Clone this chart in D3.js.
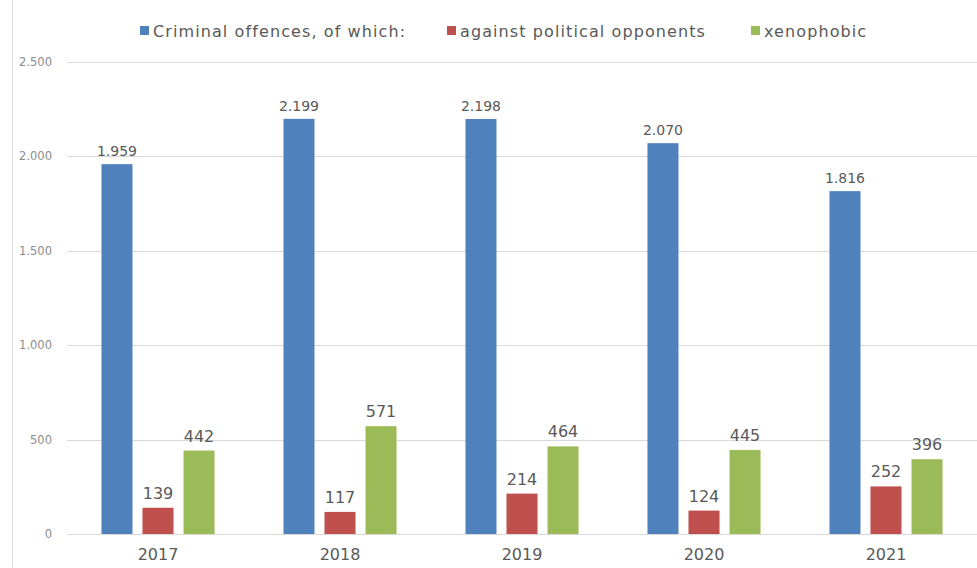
<!DOCTYPE html>
<html>
<head>
<meta charset="utf-8">
<script src="https://cdn.jsdelivr.net/npm/d3@7"></script>
<style>
  body { margin: 0; background: #fff; }
  text { font-family: "DejaVu Sans", sans-serif; }
</style>
</head>
<body>
<div id="canvas"></div>
<script>
"use strict"

// DATA

let years = ["2017", "2018", "2019", "2020", "2021"];
let seriesNames = ["Criminal offences, of which:", "against political opponents", "xenophobic"];
let criminal = [1959, 2199, 2198, 2070, 1816];
let political = [139, 117, 214, 124, 252];
let xenophobic = [442, 571, 464, 445, 396];
let yTicks = [0, 500, 1000, 1500, 2000, 2500];
let yTickLabels = ["0", "500", "1.000", "1.500", "2.000", "2.500"];

let colors = ["#4f81bd", "#c0504d", "#9bbb59"];

// CONFIGURATION

let svgWidth = 977;
let svgHeight = 568;
let plotLeft = 67, plotRight = 977, plotTop = 62, plotBottom = 534;

let svg = d3.select("#canvas")
    .append("svg")
    .attr("width", svgWidth)
    .attr("height", svgHeight);

// left border line
svg.append("line")
    .attr("x1", 12.5).attr("x2", 12.5)
    .attr("y1", 0).attr("y2", svgHeight)
    .attr("stroke", "#d9d9d9");

// SCALES

let xScale = d3.scaleBand()
    .domain(years)
    .range([plotLeft, plotRight]);

let sub = d3.scaleBand()
    .domain(d3.range(3))
    .range([0, xScale.bandwidth()])
    .paddingInner(0.244)
    .paddingOuter(0.84);

let yScale = d3.scaleLinear()
    .domain([0, 2500])
    .range([plotBottom, plotTop]);

// GRIDLINES

svg.selectAll("line.grid")
    .data(yTicks)
    .join("line")
    .attr("class", "grid")
    .attr("x1", plotLeft).attr("x2", plotRight)
    .attr("y1", function(d) { return Math.round(yScale(d)) + 0.5; })
    .attr("y2", function(d) { return Math.round(yScale(d)) + 0.5; })
    .attr("stroke", "#d9d9d9");

svg.selectAll("text.ytick")
    .data(yTicks)
    .join("text")
    .attr("class", "ytick")
    .attr("x", 52)
    .attr("y", function(d) { return yScale(d) + 4; })
    .attr("text-anchor", "end")
    .style("font-size", "11.5px")
    .attr("fill", "#8c8c8c")
    .text(function(d, i) { return yTickLabels[i]; });

// BARS

let rows = [];
years.forEach(function(y, i) {
    [criminal[i], political[i], xenophobic[i]].forEach(function(v, s) {
        rows.push({ year: y, s: s, value: v });
    });
});

svg.selectAll("rect.bar")
    .data(rows)
    .join("rect")
    .attr("class", "bar")
    .attr("x", function(d) { return xScale(d.year) + sub(d.s); })
    .attr("y", function(d) { return yScale(d.value); })
    .attr("width", sub.bandwidth())
    .attr("height", function(d) { return yScale(0) - yScale(d.value); })
    .attr("fill", function(d) { return colors[d.s]; });

let fmt = function(v) { return v >= 1000 ? d3.format(",")(v).replace(",", ".") : String(v); };

svg.selectAll("text.value")
    .data(rows)
    .join("text")
    .attr("class", "value")
    .attr("x", function(d) { return xScale(d.year) + sub(d.s) + sub.bandwidth() / 2; })
    .attr("y", function(d) { return yScale(d.value) - (d.value >= 1000 ? 8 : 9); })
    .attr("text-anchor", "middle")
    .style("font-size", function(d) { return d.value >= 1000 ? "14px" : "16px"; })
    .attr("fill", "#595959")
    .text(function(d) { return fmt(d.value); });

// X LABELS

svg.selectAll("text.year")
    .data(years)
    .join("text")
    .attr("class", "year")
    .attr("x", function(d) { return xScale(d) + xScale.bandwidth() / 2; })
    .attr("y", 560)
    .attr("text-anchor", "middle")
    .style("font-size", "16px")
    .attr("fill", "#595959")
    .text(function(d) { return d; });

// LEGEND

let legendX = [140, 447, 751];

seriesNames.forEach(function(name, i) {
    svg.append("rect")
        .attr("x", legendX[i])
        .attr("y", 26)
        .attr("width", 9)
        .attr("height", 9)
        .attr("fill", colors[i]);
    svg.append("text")
        .attr("x", legendX[i] + 13)
        .attr("y", 37)
        .style("font-size", "16px")
        .style("letter-spacing", "1.1px")
        .attr("fill", "#595959")
        .text(name);
});
</script>
</body>
</html>
